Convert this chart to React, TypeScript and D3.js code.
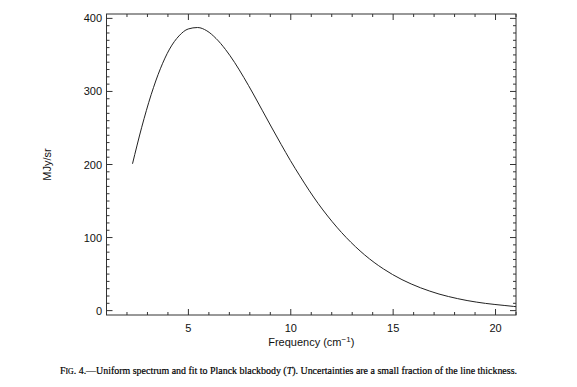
import React from 'react'
import * as d3 from 'd3'

// FIRAS uniform spectrum (cm^-1, MJy/sr)
const freq = [
  2.27, 2.72, 3.18, 3.63, 4.08, 4.54, 4.99, 5.45, 5.9, 6.35, 6.81, 7.26, 7.71, 8.17,
  8.62, 9.08, 9.53, 9.98, 10.44, 10.89, 11.34, 11.8, 12.25, 12.71, 13.16, 13.61,
  14.07, 14.52, 14.97, 15.43, 15.88, 16.34, 16.79, 17.24, 17.7, 18.15, 18.61, 19.06,
  19.51, 19.97, 20.42, 20.87, 21.33,
]
const intensity = [
  201.0, 251.0, 295.5, 331.0, 358.0, 376.0, 385.5, 387.5, 383.0, 372.5, 357.5, 339.5,
  319.0, 296.5, 273.5, 250.0, 227.5, 205.5, 184.5, 164.8, 146.5, 129.5, 114.2, 100.0,
  87.5, 76.2, 66.0, 57.2, 49.4, 42.4, 36.5, 31.2, 26.7, 22.7, 19.3, 16.4, 13.8, 11.7,
  9.9, 8.4, 7.1, 5.8, 4.5,
]
const xMajor = [5, 10, 15, 20]
const yMajor = [0, 100, 200, 300, 400]

const W = 577
const H = 387
const left = 106.5
const right = 516
const top = 14
const bottom = 315

export default function App() {
  const x = d3.scaleLinear().domain([1, 21]).range([left, right])
  const y = d3.scaleLinear().domain([-6, 406]).range([bottom, top])

  const xMinor = d3.range(1, 22, 1).filter(v => !xMajor.includes(v))
  const yMinor = d3.range(0, 401, 10).filter(v => !yMajor.includes(v))

  const pts = freq.map((f, i) => [f, intensity[i]] as [number, number])
  const line = d3.line<[number, number]>()
    .x(d => x(d[0]))
    .y(d => y(d[1]))
    .curve(d3.curveMonotoneX)

  const axisColor = '#333'
  const font = '"Liberation Sans", Arial, sans-serif'

  return (
    <svg width={W} height={H} style={{ position: 'absolute', left: 0, top: 0, background: '#fff' }}>
      <defs>
        <clipPath id="plotClip">
          <rect x={left} y={top} width={right - left} height={bottom - top} />
        </clipPath>
      </defs>

      {/* frame */}
      <rect x={left} y={top} width={right - left} height={bottom - top}
        fill="none" stroke={axisColor} strokeWidth={1} />

      {/* x ticks bottom & top */}
      {xMajor.map(v => (
        <g key={'xM' + v}>
          <line x1={x(v)} x2={x(v)} y1={bottom} y2={bottom - 6} stroke={axisColor} />
          <line x1={x(v)} x2={x(v)} y1={top} y2={top + 6} stroke={axisColor} />
          <text x={x(v)} y={332} textAnchor="middle" fontFamily={font} fontSize={11} fill="#111">{v}</text>
        </g>
      ))}
      {xMinor.map(v => (
        <g key={'xm' + v}>
          <line x1={x(v)} x2={x(v)} y1={bottom} y2={bottom - 3} stroke={axisColor} />
          <line x1={x(v)} x2={x(v)} y1={top} y2={top + 3} stroke={axisColor} />
        </g>
      ))}

      {/* y ticks left & right */}
      {yMajor.map(v => (
        <g key={'yM' + v}>
          <line x1={left} x2={left + 6} y1={y(v)} y2={y(v)} stroke={axisColor} />
          <line x1={right} x2={right - 6} y1={y(v)} y2={y(v)} stroke={axisColor} />
          <text x={102} y={y(v) + 4} textAnchor="end" fontFamily={font} fontSize={11} fill="#111">{v}</text>
        </g>
      ))}
      {yMinor.map(v => (
        <g key={'ym' + v}>
          <line x1={left} x2={left + 3} y1={y(v)} y2={y(v)} stroke={axisColor} />
          <line x1={right} x2={right - 3} y1={y(v)} y2={y(v)} stroke={axisColor} />
        </g>
      ))}

      {/* spectrum */}
      <path d={line(pts) ?? ''} fill="none" stroke="#222" strokeWidth={1} clipPath="url(#plotClip)" />

      {/* axis titles */}
      <text x={(left + right) / 2} y={346} textAnchor="middle" fontFamily={font} fontSize={11} fill="#111">
        Frequency (cm<tspan dy={-4} fontSize={8}>−1</tspan><tspan dy={4}>)</tspan>
      </text>
      <text transform={`translate(51,${(top + bottom) / 2}) rotate(-90)`} textAnchor="middle"
        fontFamily={font} fontSize={11} fill="#111">MJy/sr</text>

      {/* caption */}
      <text x={60} y={374} fontFamily='"Liberation Serif", "Times New Roman", serif' fontSize={10}
        fill="#000" stroke="#000" strokeWidth={0.2} textLength={457} lengthAdjust="spacingAndGlyphs">
        F<tspan fontSize={7.8}>IG</tspan>. 4.—Uniform spectrum and fit to Planck blackbody (<tspan fontStyle="italic">T</tspan>). Uncertainties are a small fraction of the line thickness.
      </text>
    </svg>
  )
}
